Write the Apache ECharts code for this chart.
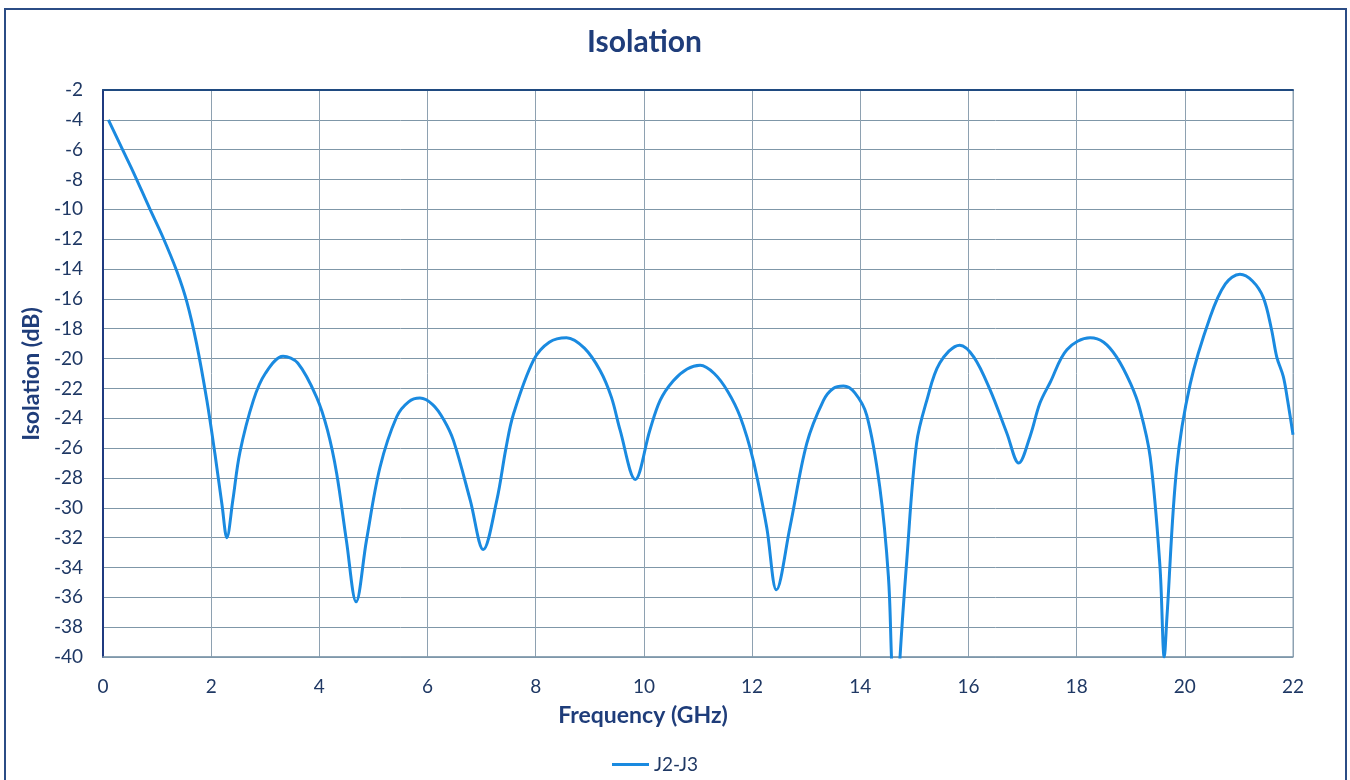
<!DOCTYPE html>
<html>
<head>
<meta charset="utf-8">
<script src="https://cdn.jsdelivr.net/npm/echarts@6/dist/echarts.min.js"></script>
<style>
html,body{margin:0;padding:0;background:#fff;}
#chart{width:1350px;height:780px;}
</style>
</head>
<body>
<div id="chart"></div>
<script>
const titleText = 'Isolation';
const xAxisName = 'Frequency (GHz)';
const yAxisName = 'Isolation (dB)';
const seriesName = 'J2-J3';
const frequencyGHz = [
  0.1, 0.375, 0.56, 0.87, 1.1, 1.36, 1.55, 1.73, 1.92, 2.07, 2.2, 2.29, 2.4, 2.53, 2.78, 3.0, 3.33, 3.6, 3.95,
  4.15, 4.32, 4.5, 4.68, 4.87, 5.12, 5.43, 5.65, 5.86, 6.1, 6.3, 6.48, 6.79, 7.03, 7.28, 7.45, 7.59, 7.96,
  8.25, 8.57, 8.9, 9.19, 9.4, 9.56, 9.84, 10.11, 10.3, 10.54, 10.8, 11.04, 11.3, 11.55, 11.78, 12.02, 12.27,
  12.45, 12.7, 13.01, 13.32, 13.5, 13.69, 13.9, 14.12, 14.36, 14.52, 14.58, 14.655, 14.73, 14.86, 15.04,
  15.23, 15.47, 15.84, 16.1, 16.4, 16.71, 16.93, 17.14, 17.32, 17.51, 17.82, 18.25, 18.5, 18.74, 19.0, 19.17,
  19.36, 19.54, 19.62, 19.67, 19.85, 20.1, 20.47, 20.75, 21.02, 21.25, 21.45, 21.6, 21.7, 21.82, 21.9, 22.0
];
const isolationDb = [
  -4.0, -6.1, -7.5, -10.0, -11.8, -14.1, -16.2, -19.0, -22.8, -26.4, -29.8, -32.0, -29.5, -26.3, -22.8, -21.0, -19.85, -20.3, -22.6,
  -24.8, -27.7, -32.2, -36.3, -32.2, -27.3, -23.9, -22.9, -22.65, -23.1, -24.1, -25.5, -29.5, -32.8, -29.5, -26.0, -23.7, -20.1,
  -18.9, -18.6, -19.3, -20.8, -22.6, -24.8, -28.1, -24.8, -22.8, -21.5, -20.7, -20.45, -21.0, -22.2, -23.9, -26.8, -31.3,
  -35.5, -31.3, -25.7, -22.8, -22.0, -21.84, -22.3, -23.8, -28.6, -34.6, -40.3, -46.0, -40.3, -33.5, -25.7,
  -22.8, -20.3, -19.1, -19.9, -22.1, -25.0, -27.0, -25.2, -23.0, -21.6, -19.4, -18.6, -18.9, -19.9, -21.7, -23.4,
  -26.6, -33.9, -40.0, -37.3, -27.3, -21.7, -17.2, -15.0, -14.35, -14.8, -15.9, -18.0, -19.9, -21.2, -22.8, -25.1
];

const seriesData = frequencyGHz.map((f, i) => [f, isolationDb[i]]);
const navy = '#1f3864';
const titleBlue = '#1f3d7a';
const fontFamily = 'Lato, "Open Sans", sans-serif';

const chart = echarts.init(document.getElementById('chart'));
chart.setOption({
  animation: false,
  backgroundColor: '#ffffff',
  textStyle: { fontFamily: fontFamily },
  title: {
    text: titleText,
    left: 582,
    top: 22,
    textStyle: { fontFamily: fontFamily, fontSize: 30, fontWeight: 'bold', color: titleBlue }
  },
  legend: {
    top: 750,
    left: 607,
    data: [seriesName],
    icon: 'rect',
    itemWidth: 37,
    itemHeight: 3,
    itemGap: 4,
    textStyle: { fontFamily: fontFamily, fontSize: 19, color: navy }
  },
  graphic: [{
    type: 'rect',
    shape: { x: 5, y: 9, width: 1341, height: 800 },
    style: { fill: 'none', stroke: '#2b4c85', lineWidth: 2 },
    silent: true
  }, {
    type: 'text',
    x: 643, y: 716,
    style: {
      text: xAxisName, align: 'center', verticalAlign: 'middle',
      font: 'bold 23px ' + fontFamily, fill: titleBlue
    },
    silent: true
  }, {
    type: 'text',
    x: 32, y: 374,
    rotation: Math.PI / 2,
    style: {
      text: yAxisName, align: 'center', verticalAlign: 'middle',
      font: 'bold 23px ' + fontFamily, fill: titleBlue
    },
    silent: true
  }],
  grid: {
    left: 103, top: 90, right: 57, bottom: 123,
    show: true, borderColor: '#8aa2b4', borderWidth: 1
  },
  xAxis: [{
    type: 'value',
    min: 0, max: 22, interval: 2,
    axisLine: { show: true, lineStyle: { color: '#7f98ab', width: 1.5 } },
    axisTick: { show: false },
    axisLabel: { fontFamily: fontFamily, fontSize: 19, color: navy, margin: 20 },
    splitLine: { show: true, lineStyle: { color: '#8ea1b1', width: 1 } }
  }, {
    type: 'value',
    position: 'top',
    min: 0, max: 22, interval: 2,
    axisLine: { show: true, onZero: false, lineStyle: { color: '#1f4a80', width: 2 } },
    axisTick: { show: false },
    axisLabel: { show: false },
    splitLine: { show: false }
  }],
  yAxis: {
    type: 'value',
    min: -40, max: -2, interval: 2,
    axisLine: { show: true, onZero: false, lineStyle: { color: '#1f3a80', width: 2 } },
    axisTick: { show: false },
    axisLabel: { fontFamily: fontFamily, fontSize: 19, color: navy, margin: 20 },
    splitLine: { show: true, lineStyle: { color: '#7f97a8', width: 1 } }
  },
  series: [{
    name: seriesName,
    type: 'line',
    data: seriesData,
    smooth: 0.35,
    showSymbol: false,
    clip: true,
    lineStyle: { color: '#1a8ae0', width: 3 },
    itemStyle: { color: '#1a8ae0' }
  }]
});
</script>
</body>
</html>
